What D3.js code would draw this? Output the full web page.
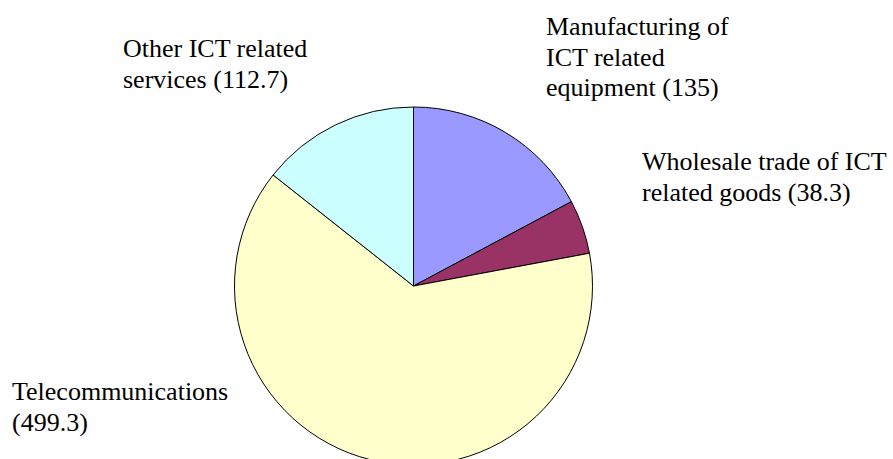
<!DOCTYPE html>
<html>
<head>
<meta charset="utf-8">
<script src="https://cdn.jsdelivr.net/npm/d3@7"></script>
<style>
  html, body { margin: 0; padding: 0; background: #fff; }
</style>
</head>
<body>
<svg id="chart" width="893" height="459"></svg>
<script>
// ICT sector breakdown (values in parentheses in each label)
const categories = [
  "Manufacturing of ICT related equipment",
  "Wholesale trade of ICT related goods",
  "Telecommunications",
  "Other ICT related services"
];
const values = [135, 38.3, 499.3, 112.7];
const colors = ["#9999FF", "#993366", "#FFFFCC", "#CCFFFF"];
// Label lines (value appended from the data)
const labelLines = [
  ["Manufacturing of", "ICT related", "equipment"],
  ["Wholesale trade of ICT", "related goods"],
  ["Telecommunications", ""],
  ["Other ICT related", "services"]
];

const svg = d3.select("#chart");
const cx = 413.5, cy = 286, R = 179;

const data = categories.map((c, i) => ({ name: c, value: values[i], color: colors[i], lines: labelLines[i] }));

const pie = d3.pie().sort(null).value(d => d.value).startAngle(0).endAngle(2 * Math.PI);
const arc = d3.arc().innerRadius(0).outerRadius(R);
const arcs = pie(data);

const g = svg.append("g").attr("transform", `translate(${cx},${cy})`);
g.selectAll("path")
  .data(arcs)
  .join("path")
  .attr("d", arc)
  .attr("fill", d => d.data.color)
  .attr("stroke", "#000")
  .attr("stroke-width", 1)
  .attr("stroke-linejoin", "round");

// Label anchors: left edge and first baseline, line spacing
const labelPos = [
  { x: 546, y: 35 },
  { x: 642, y: 170 },
  { x: 12, y: 400 },
  { x: 123, y: 57 }
];
const lineH = 30.5;

const labels = svg.append("g")
  .style("font-family", "'Liberation Serif', 'Times New Roman', 'DejaVu Serif', serif")
  .style("font-size", "26px")
  .attr("fill", "#000");
data.forEach((d, i) => {
  const lines = d.lines.slice();
  const valStr = "(" + d.value + ")";
  const last = lines.length - 1;
  lines[last] = lines[last] ? lines[last] + " " + valStr : valStr;
  const t = labels.append("text")
    .attr("x", labelPos[i].x)
    .attr("y", labelPos[i].y);
  lines.forEach((ln, j) => {
    t.append("tspan")
      .attr("x", labelPos[i].x)
      .attr("y", labelPos[i].y + j * lineH)
      .text(ln);
  });
});
</script>
</body>
</html>
